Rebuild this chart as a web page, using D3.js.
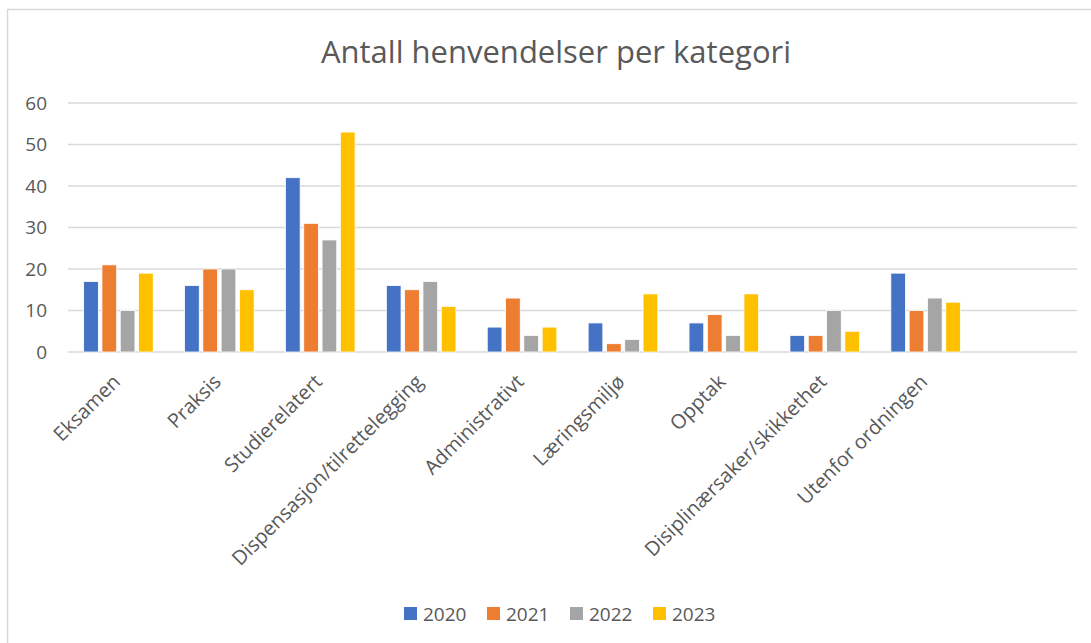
<html>
<head>
  <script src="https://d3js.org/d3.v7.min.js"></script>
  <style>
    body { margin: 0; background: #fff; }
    text { font-family: "Open Sans", sans-serif; fill: #595959; }
  </style>
</head>
<body>
  <div id="chart"></div>
  <script type="text/javascript">

    // data
    var categories = ['Eksamen', 'Praksis', 'Studierelatert', 'Dispensasjon/tilrettelegging',
                      'Administrativt', 'Læringsmiljø', 'Opptak', 'Disiplinærsaker/skikkethet',
                      'Utenfor ordningen', ''];
    var years = ['2020', '2021', '2022', '2023'];
    var values2020 = [17, 16, 42, 16, 6, 7, 7, 4, 19];
    var values2021 = [21, 20, 31, 15, 13, 2, 9, 4, 10];
    var values2022 = [10, 20, 27, 17, 4, 3, 4, 10, 13];
    var values2023 = [19, 15, 53, 11, 6, 14, 14, 5, 12];
    var yTicks = [0, 10, 20, 30, 40, 50, 60];
    var colors = ['#4472C4', '#ED7D31', '#A5A5A5', '#FFC000'];

    var series = [values2020, values2021, values2022, values2023];

    var W = 1091, H = 643;
    var margin = {top: 103, right: 14, bottom: 291, left: 68};
    var width = W - margin.left - margin.right;
    var height = H - margin.top - margin.bottom;

    var svg = d3.select('#chart').append('svg')
                .attr('width', W)
                .attr('height', H);

    // chart border
    svg.append('rect')
       .attr('x', 7.5).attr('y', 9.5)
       .attr('width', W + 20).attr('height', H + 20)
       .style('fill', 'none')
       .style('stroke', '#d9d9d9')
       .style('stroke-width', 1.5);

    svg.append('text')
       .text('Antall henvendelser per kategori')
       .attr('x', 556)
       .attr('y', 63)
       .attr('text-anchor', 'middle')
       .style('font-size', '31px');

    var g = svg.append('g')
               .attr('transform', 'translate(' + margin.left + ',' + margin.top + ')');

    var x = d3.scaleBand().domain(categories).range([0, width]).padding(0);
    var x1 = d3.scaleBand().domain(years).range([0, 73.2]).padding(0);
    var y = d3.scaleLinear().domain([0, 60]).range([height, 0]);

    // gridlines
    g.selectAll('.grid')
     .data(yTicks)
     .enter().append('line')
       .attr('class', 'grid')
       .attr('x1', 0).attr('x2', width)
       .attr('y1', function(d) { return y(d); })
       .attr('y2', function(d) { return y(d); })
       .style('stroke', '#d9d9d9')
       .style('stroke-width', 1.5);

    // y labels
    var yAxis = d3.axisLeft(y).tickValues(yTicks).tickSize(0).tickPadding(21);
    var ya = g.append('g').call(yAxis);
    ya.select('.domain').remove();
    ya.selectAll('text').style('font-size', '19px').style('fill', '#595959')
      .style('font-family', '"Open Sans", sans-serif');

    // bars
    var groups = g.selectAll('.grp')
                  .data(series)
                  .enter().append('g')
                    .attr('class', 'grp')
                    .style('fill', function(d, i) { return colors[i]; });

    groups.selectAll('rect')
          .data(function(d, i) { return d.map(function(v, j) { return {cat: categories[j], year: years[i], v: v}; }); })
          .enter().append('rect')
            .attr('x', function(d) { return x(d.cat) + x.bandwidth() / 2 - 36.6 + x1(d.year) + 1.8; })
            .attr('width', x1.bandwidth() - 3.6)
            .attr('y', function(d) { return y(d.v); })
            .attr('height', function(d) { return height - y(d.v); })
            .style('stroke', '#fff')
            .style('stroke-width', 0.8);

    // x labels
    var xAxis = d3.axisBottom(x).tickSize(0).tickPadding(0);
    var xa = g.append('g')
              .attr('transform', 'translate(0,' + height + ')')
              .call(xAxis);
    xa.select('.domain').remove();
    xa.selectAll('text')
      .style('font-size', '20px')
      .style('fill', '#595959')
      .style('font-family', '"Open Sans", sans-serif')
      .attr('text-anchor', 'end')
      .attr('y', 0)
      .attr('dy', '0')
      .attr('transform', 'translate(3,31) rotate(-45)');

    // legend
    var legend = svg.append('g').attr('transform', 'translate(404,607)');
    var items = legend.selectAll('g')
                      .data(years)
                      .enter().append('g')
                        .attr('transform', function(d, i) { return 'translate(' + (i * 83) + ',0)'; });
    items.append('rect')
         .attr('width', 13).attr('height', 13)
         .style('fill', function(d, i) { return colors[i]; });
    items.append('text')
         .text(function(d) { return d; })
         .attr('x', 19).attr('y', 13.5)
         .style('font-size', '19px');

  </script>
</body>
</html>
